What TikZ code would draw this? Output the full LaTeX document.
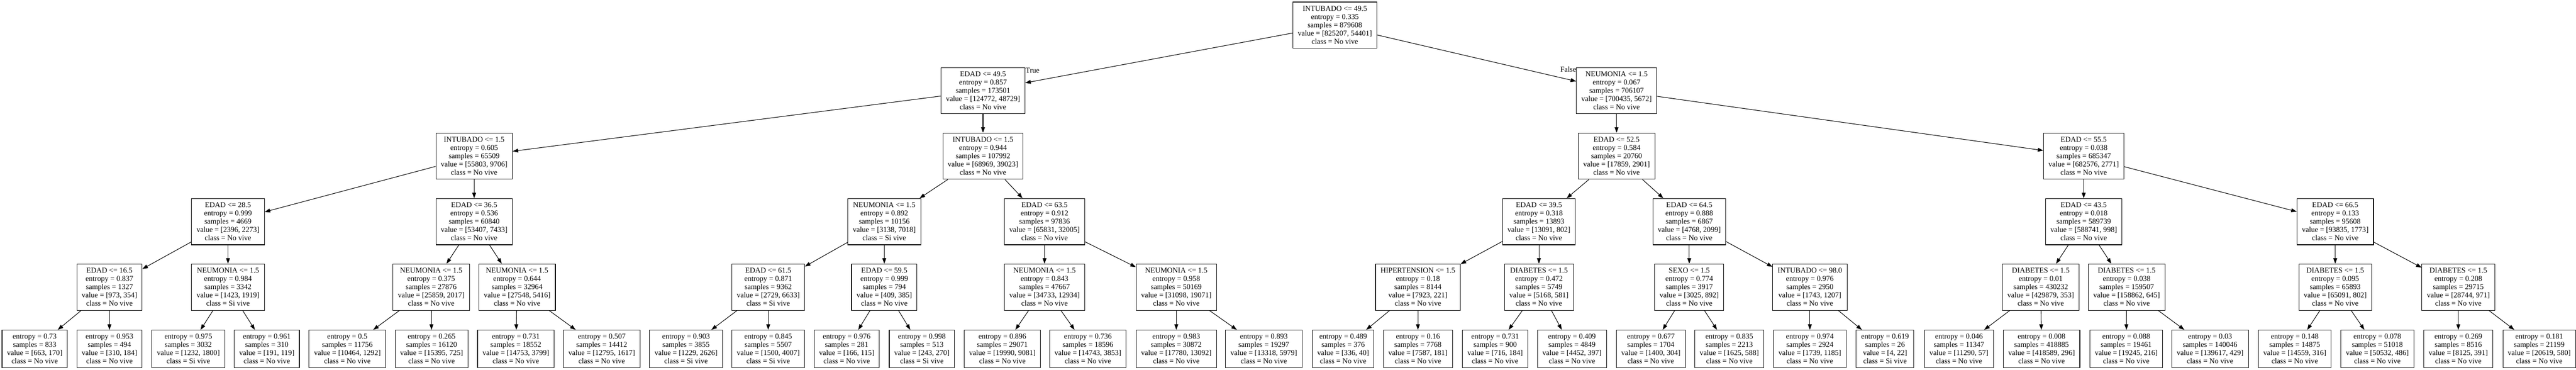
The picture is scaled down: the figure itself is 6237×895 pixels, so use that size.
\documentclass[tikz,border=0pt]{standalone}
\usepackage{fontspec}
\setmainfont{Liberation Serif}
\usetikzlibrary{arrows.meta}

\begin{document}
\begin{tikzpicture}[x=0.75pt,y=-0.75pt,
        txt/.style={font=\fontsize{13.6}{15}\selectfont},
        split/.style={txt,draw,line width=1pt,align=center,inner xsep=9pt,inner ysep=0pt,minimum height=84pt},
        leaf/.style={split,minimum height=68.25pt},
        edge/.style={line width=1pt,-{Triangle[length=10pt,width=7pt]}}]
        \useasboundingbox (0,0) rectangle (6237,895);

        % Splits
        % name / x / y / test / entropy / samples / value / class
        \foreach \nm/\xx/\yy/\tst/\ent/\smp/\val/\cls in {
            r/3232/61/INTUBADO <= 49.5/0.335/879608/{825207, 54401}/No vive,
            a/2380/219.5/EDAD <= 49.5/0.857/173501/{124772, 48729}/No vive,
            b/3914/219.5/NEUMONIA <= 1.5/0.067/706107/{700435, 5672}/No vive,
            aa/1148/378/INTUBADO <= 1.5/0.605/65509/{55803, 9706}/No vive,
            ab/2380/378/INTUBADO <= 1.5/0.944/107992/{68969, 39023}/No vive,
            ba/3914/378/EDAD <= 52.5/0.584/20760/{17859, 2901}/No vive,
            bb/5045/378/EDAD <= 55.5/0.038/685347/{682576, 2771}/No vive,
            aaa/552/536.5/EDAD <= 28.5/0.999/4669/{2396, 2273}/No vive,
            aab/1148/536.5/EDAD <= 36.5/0.536/60840/{53407, 7433}/No vive,
            aba/2141/536.5/NEUMONIA <= 1.5/0.892/10156/{3138, 7018}/Si vive,
            abb/2529/536.5/EDAD <= 63.5/0.912/97836/{65831, 32005}/No vive,
            baa/3726/536.5/EDAD <= 39.5/0.318/13893/{13091, 802}/No vive,
            bab/4090/536.5/EDAD <= 64.5/0.888/6867/{4768, 2099}/No vive,
            bba/5045/536.5/EDAD <= 43.5/0.018/589739/{588741, 998}/No vive,
            bbb/5654/536.5/EDAD <= 66.5/0.133/95608/{93835, 1773}/No vive,
            aaaa/265/695/EDAD <= 16.5/0.837/1327/{973, 354}/No vive,
            aaab/552/695/NEUMONIA <= 1.5/0.984/3342/{1423, 1919}/Si vive,
            aaba/1044/695/NEUMONIA <= 1.5/0.375/27876/{25859, 2017}/No vive,
            aabb/1252/695/NEUMONIA <= 1.5/0.644/32964/{27548, 5416}/No vive,
            abaa/1860/695/EDAD <= 61.5/0.871/9362/{2729, 6633}/Si vive,
            abab/2141/695/EDAD <= 59.5/0.999/794/{409, 385}/No vive,
            abba/2529/695/NEUMONIA <= 1.5/0.843/47667/{34733, 12934}/No vive,
            abbb/2848/695/NEUMONIA <= 1.5/0.958/50169/{31098, 19071}/No vive,
            baaa/3433/695/HIPERTENSION <= 1.5/0.18/8144/{7923, 221}/No vive,
            baab/3726/695/DIABETES <= 1.5/0.472/5749/{5168, 581}/No vive,
            baba/4090/695/SEXO <= 1.5/0.774/3917/{3025, 892}/No vive,
            babb/4382/695/INTUBADO <= 98.0/0.976/2950/{1743, 1207}/No vive,
            bbaa/4941/695/DIABETES <= 1.5/0.01/430232/{429879, 353}/No vive,
            bbab/5149/695/DIABETES <= 1.5/0.038/159507/{158862, 645}/No vive,
            bbba/5654/695/DIABETES <= 1.5/0.095/65893/{65091, 802}/No vive,
            bbbb/5952/695/DIABETES <= 1.5/0.208/29715/{28744, 971}/No vive}
        {
            \node[split] (\nm) at (\xx,\yy) {\tst\\entropy = \ent\\samples = \smp\\value = [\val]\\class = \cls};
        }
        \foreach \pa/\ch in {r/a, r/b, a/aa, a/ab, b/ba, b/bb,
            aa/aaa, aa/aab, ab/aba, ab/abb, ba/baa, ba/bab, bb/bba, bb/bbb,
            aaa/aaaa, aaa/aaab, aab/aaba, aab/aabb, aba/abaa, aba/abab, abb/abba, abb/abbb,
            baa/baaa, baa/baab, bab/baba, bab/babb, bba/bbaa, bba/bbab, bbb/bbba, bbb/bbbb}
        {
            \draw[edge] (\pa) -- (\ch);
        }
        \node[txt] (lblTrue) at (2500,171) {True};
        \node[txt] (lblFalse) at (3797,168) {False};

        % Leaves
        % number / parent / x / entropy / samples / value / class
        \foreach \nm/\pa/\xx/\ent/\smp/\val/\cls in {
            1/aaaa/84/0.73/833/{663, 170}/No vive,
            2/aaaa/265/0.953/494/{310, 184}/No vive,
            3/aaab/456/0.975/3032/{1232, 1800}/Si vive,
            4/aaab/646/0.961/310/{191, 119}/No vive,
            5/aaba/841/0.5/11756/{10464, 1292}/No vive,
            6/aaba/1045/0.265/16120/{15395, 725}/No vive,
            7/aabb/1249/0.731/18552/{14753, 3799}/No vive,
            8/aabb/1457/0.507/14412/{12795, 1617}/No vive,
            9/abaa/1661/0.903/3855/{1229, 2626}/Si vive,
            10/abaa/1860/0.845/5507/{1500, 4007}/Si vive,
            11/abab/2050/0.976/281/{166, 115}/No vive,
            12/abab/2232/0.998/513/{243, 270}/Si vive,
            13/abba/2427/0.896/29071/{19990, 9081}/No vive,
            14/abba/2634/0.736/18596/{14743, 3853}/No vive,
            15/abbb/2848/0.983/30872/{17780, 13092}/No vive,
            16/abbb/3060/0.893/19297/{13318, 5979}/No vive,
            17/baaa/3252/0.489/376/{336, 40}/No vive,
            18/baaa/3433/0.16/7768/{7587, 181}/No vive,
            19/baab/3620/0.731/900/{716, 184}/No vive,
            20/baab/3806/0.409/4849/{4452, 397}/No vive,
            21/baba/3997/0.677/1704/{1400, 304}/No vive,
            22/baba/4187/0.835/2213/{1625, 588}/No vive,
            23/babb/4382/0.974/2924/{1739, 1185}/No vive,
            24/babb/4564/0.619/26/{4, 22}/Si vive,
            25/bbaa/4743/0.046/11347/{11290, 57}/No vive,
            26/bbaa/4943/0.008/418885/{418589, 296}/No vive,
            27/bbab/5148/0.088/19461/{19245, 216}/No vive,
            28/bbab/5351/0.03/140046/{139617, 429}/No vive,
            29/bbba/5556/0.148/14875/{14559, 316}/No vive,
            30/bbba/5756/0.078/51018/{50532, 486}/No vive,
            31/bbbb/5952/0.269/8516/{8125, 391}/No vive,
            32/bbbb/6148/0.181/21199/{20619, 580}/No vive}
        {
            \node[leaf] (leaf\nm) at (\xx,844.5) {entropy = \ent\\samples = \smp\\value = [\val]\\class = \cls};
            \draw[edge] (\pa) -- (leaf\nm);
        }
\end{tikzpicture}
\end{document}
